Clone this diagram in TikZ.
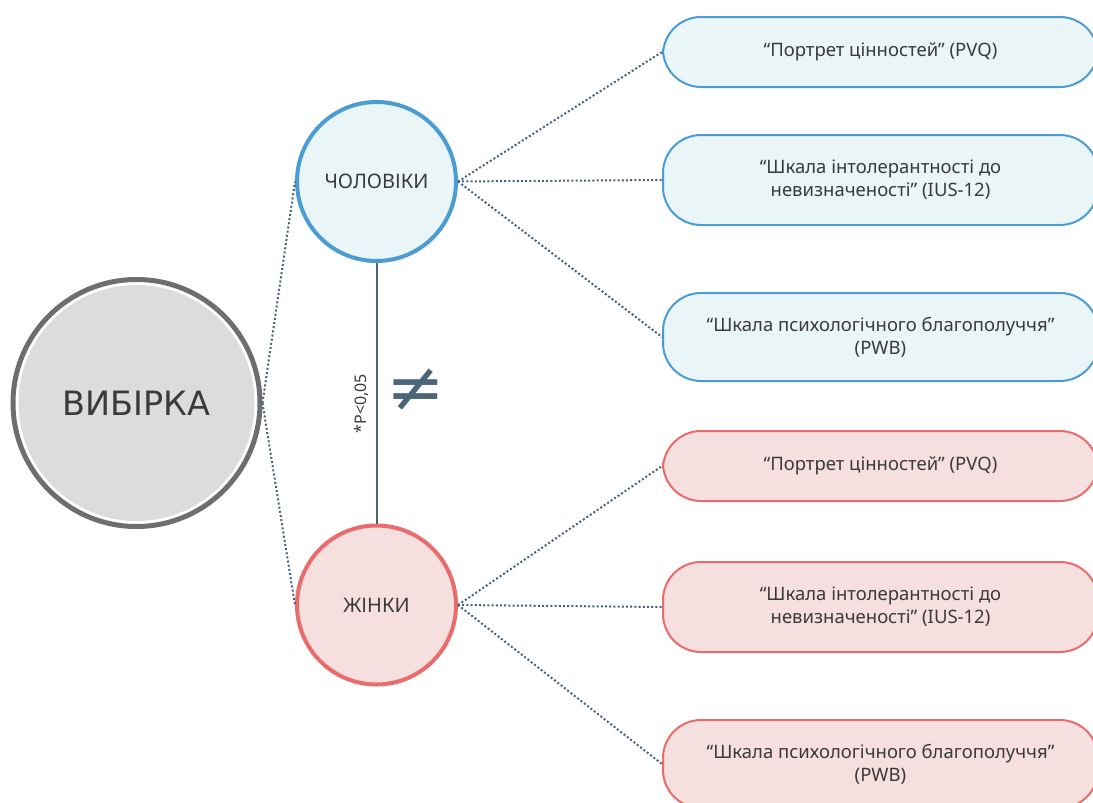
\documentclass[tikz,border=0pt]{standalone}
\usepackage{fontspec}
\setmainfont{Noto Sans}
\newfontfamily\bigfont{DejaVu Sans}
\usetikzlibrary{positioning}

\definecolor{sampleFill}{HTML}{DCDCDC}
\definecolor{sampleRing}{HTML}{6E6E6E}
\definecolor{menLine}{HTML}{4B9CD3}
\definecolor{menFill}{HTML}{EAF5F7}
\definecolor{womenLine}{HTML}{E96B6B}
\definecolor{womenFill}{HTML}{F6DFDF}
\definecolor{linkColor}{HTML}{45637E}
\definecolor{gapColor}{HTML}{4B6678}
\definecolor{txtColor}{HTML}{3A3A3A}

\tikzset{
  sample/.style={circle, fill=sampleFill, minimum size=236pt, inner sep=0pt,
    outer sep=8pt, text=txtColor, font=\bigfont\fontsize{33.5}{38}\selectfont},
  group/.style={circle, line width=4pt, minimum size=159pt, inner sep=0pt,
    text=txtColor, font=\fontsize{20}{24}\selectfont},
  scalebox/.style={rounded corners=38pt, line width=2pt, minimum width=435pt,
    align=center, text=txtColor, font=\fontsize{18.5}{23}\selectfont},
  link/.style={linkColor, line width=2pt, dash pattern=on 2pt off 2.2pt},
  gap/.style={gapColor, line width=2pt},
}

\begin{document}
\begin{tikzpicture}[x=1pt,y=-1pt]
\useasboundingbox (0,0) rectangle (1093,803);
\def\bx{880.5} % centre of the scale boxes

% sample and the two groups
\node[sample] (sample) at (136.5,403) {ВИБІРКА};
\draw[sampleRing, line width=5pt] (sample.center) circle (123.5);
\node[group, draw=menLine, fill=menFill] (men) at (376.5,181.5) {ЧОЛОВІКИ};
\node[group, draw=womenLine, fill=womenFill] (women) at (376.5,605) {ЖІНКИ};

% scales for every group
\foreach \n/\y/\h/\t in {pvqM/52/70/{“Портрет цінностей” (PVQ)},
    iusM/180/90/{“Шкала інтолерантності до\\невизначеності” (IUS-12)},
    pwbM/337/88/{“Шкала психологічного благополуччя”\\(PWB)}}
  \node[scalebox, draw=menLine, fill=menFill, minimum height=\h pt] (\n) at (\bx,\y) {\t};
\foreach \n/\y/\h/\t in {pvqW/466/70/{“Портрет цінностей” (PVQ)},
    iusW/607/90/{“Шкала інтолерантності до\\невизначеності” (IUS-12)},
    pwbW/764/88/{“Шкала психологічного благополуччя”\\(PWB)}}
  \node[scalebox, draw=womenLine, fill=womenFill, minimum height=\h pt] (\n) at (\bx,\y) {\t};

% connectors
\draw[link] (sample.east) -- (men.west);
\draw[link] (sample.east) -- (women.west);
\foreach \n in {pvqM,iusM,pwbM} \draw[link] (men.east) -- (\n.west);
\foreach \n in {pvqW,iusW,pwbW} \draw[link] (women.east) -- (\n.west);

\draw[gap] (women.north) -- node[pos=0.46, above, sloped, inner sep=7pt, text=txtColor,
    font=\fontsize{16}{19}\selectfont] {*P<0,05}
  node[pos=0.51, right=6pt, text=gapColor, font=\bigfont\fontsize{70}{70}\selectfont] {≠} (men.south);
\end{tikzpicture}
\end{document}
